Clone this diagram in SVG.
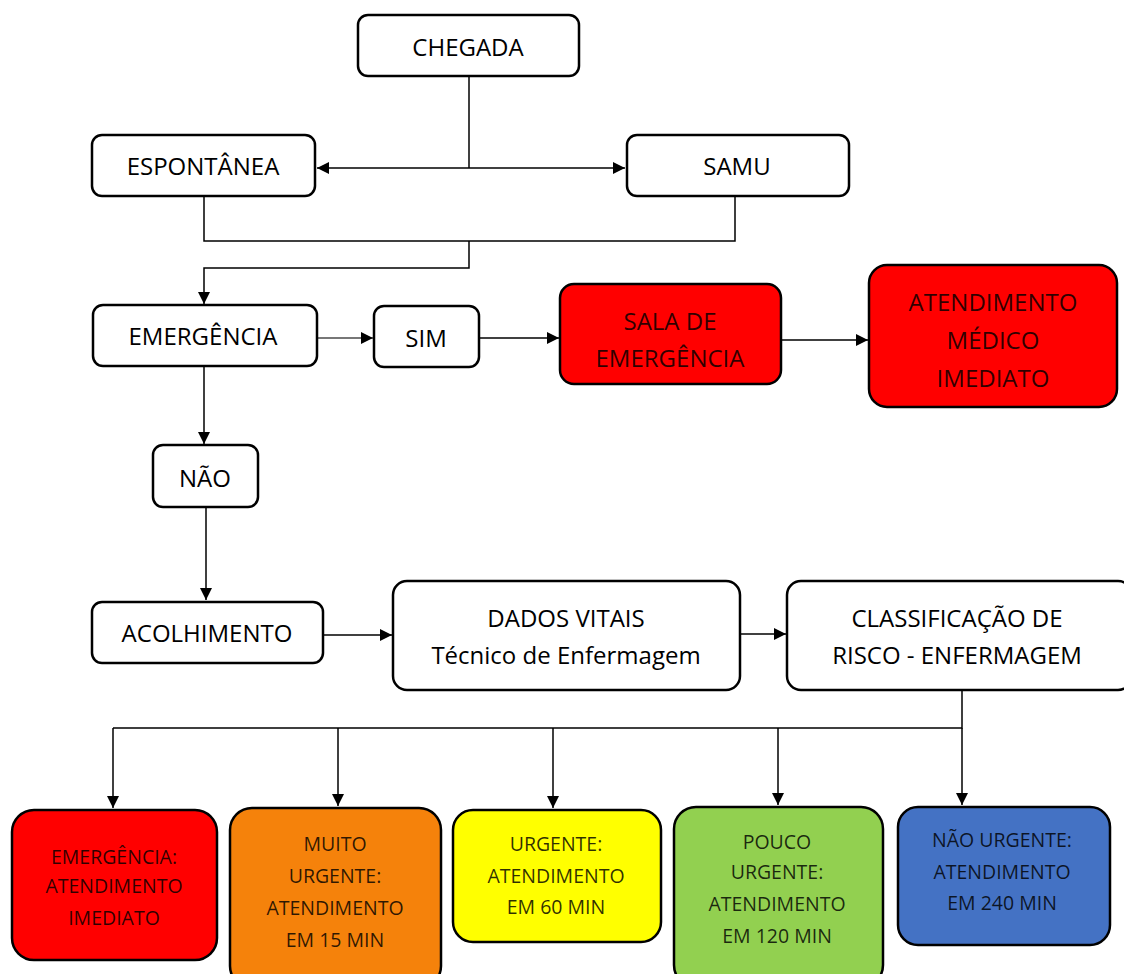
<svg xmlns="http://www.w3.org/2000/svg" width="1124" height="974" viewBox="0 0 1124 974">
<style>
.b{stroke:#000;stroke-width:2.5}
.w{fill:#fff}
.t{font-family:"Open Sans","Liberation Sans",sans-serif;font-size:24px;text-anchor:middle;fill:#000}
.s{font-family:"Open Sans","Liberation Sans",sans-serif;font-size:19.5px;text-anchor:middle;fill:#000;fill-opacity:0.82}
.r{fill-opacity:0.82}
.c{fill:none;stroke:#000;stroke-width:1.5}
</style>
<defs>
<marker id="a" markerWidth="12" markerHeight="12" viewBox="0 0 12 12" refX="12" refY="6" orient="auto" markerUnits="userSpaceOnUse">
<path d="M0,0 L12,6 L0,12 Z" fill="#000"/>
</marker>
<marker id="as" markerWidth="12" markerHeight="12" viewBox="0 0 12 12" refX="12" refY="6" orient="auto-start-reverse" markerUnits="userSpaceOnUse">
<path d="M0,0 L12,6 L0,12 Z" fill="#000"/>
</marker>
</defs>
<rect width="1124" height="974" fill="#fff"/>
<g id="connectors">
<path class="c" d="M469,76 V168"/>
<path class="c" d="M317,168 H625" marker-start="url(#as)" marker-end="url(#as)"/>
<path class="c" d="M204,197 V241 H735 V197"/>
<path class="c" d="M469,241 V268 H204 V304" marker-end="url(#a)"/>
<path d="M318,338 H373" fill="none" stroke="#777" stroke-width="2" marker-end="url(#a)"/>
<path class="c" d="M480,338 H559" marker-end="url(#a)"/>
<path class="c" d="M782,340 H868" marker-end="url(#a)"/>
<path class="c" d="M204,367 V444" marker-end="url(#a)"/>
<path class="c" d="M206,508 V600" marker-end="url(#a)"/>
<path class="c" d="M324,635 H392" marker-end="url(#a)"/>
<path class="c" d="M741,634 H786" marker-end="url(#a)"/>
<path class="c" d="M962,691 V728 H113"/>
<path class="c" d="M113,728 V808" marker-end="url(#a)"/>
<path class="c" d="M338,728 V806" marker-end="url(#a)"/>
<path class="c" d="M553,728 V808" marker-end="url(#a)"/>
<path class="c" d="M778,728 V805" marker-end="url(#a)"/>
<path class="c" d="M962,728 V805" marker-end="url(#a)"/>
</g>
<g id="chegada"><rect class="b w" x="358" y="15" width="221" height="61" rx="10"/><text class="t" x="468" y="56">CHEGADA</text></g>
<g id="espontanea"><rect class="b w" x="92" y="135" width="223" height="61" rx="10"/><text class="t" x="203" y="175">ESPONTÂNEA</text></g>
<g id="samu"><rect class="b w" x="627" y="135" width="222" height="61" rx="10"/><text class="t" x="737" y="175">SAMU</text></g>
<g id="emergencia"><rect class="b w" x="93" y="305" width="224" height="61" rx="10"/><text class="t" x="203" y="345">EMERGÊNCIA</text></g>
<g id="sim"><rect class="b w" x="374" y="306" width="105" height="61" rx="10"/><text class="t" x="426" y="347">SIM</text></g>
<g id="sala"><rect class="b" fill="#ff0000" x="560" y="284" width="221" height="100" rx="14"/><text class="t r" x="670" y="330">SALA DE</text><text class="t r" x="670" y="367">EMERGÊNCIA</text></g>
<g id="atendimento-medico"><rect class="b" fill="#ff0000" x="869" y="265" width="248" height="142" rx="18"/><text class="t r" x="993" y="311">ATENDIMENTO</text><text class="t r" x="993" y="349">MÉDICO</text><text class="t r" x="993" y="387">IMEDIATO</text></g>
<g id="nao"><rect class="b w" x="153" y="445" width="105" height="62" rx="10"/><text class="t" x="205" y="487">NÃO</text></g>
<g id="acolhimento"><rect class="b w" x="92" y="602" width="231" height="61" rx="10"/><text class="t" x="207" y="642">ACOLHIMENTO</text></g>
<g id="dados-vitais"><rect class="b w" x="393" y="581" width="347" height="109" rx="14"/><text class="t" x="566" y="627">DADOS VITAIS</text><text class="t" x="566" y="664">Técnico de Enfermagem</text></g>
<g id="classificacao"><rect class="b w" x="787" y="581" width="345" height="109" rx="14"/><text class="t" x="957" y="627">CLASSIFICAÇÃO DE</text><text class="t" x="957" y="664">RISCO - ENFERMAGEM</text></g>
<g id="vermelho"><rect class="b" fill="#ff0000" x="12" y="810" width="205" height="150" rx="22"/><text class="s" x="114" y="864">EMERGÊNCIA:</text><text class="s" x="114" y="893">ATENDIMENTO</text><text class="s" x="114" y="925">IMEDIATO</text></g>
<g id="laranja"><rect class="b" fill="#f5820b" x="230" y="808" width="211" height="180" rx="22"/><text class="s" x="335" y="851">MUITO</text><text class="s" x="335" y="883">URGENTE:</text><text class="s" x="335" y="915">ATENDIMENTO</text><text class="s" x="335" y="947">EM 15 MIN</text></g>
<g id="amarelo"><rect class="b" fill="#ffff00" x="453" y="810" width="208" height="132" rx="20"/><text class="s" x="556" y="851">URGENTE:</text><text class="s" x="556" y="883">ATENDIMENTO</text><text class="s" x="556" y="914">EM 60 MIN</text></g>
<g id="verde"><rect class="b" fill="#92d050" x="674" y="807" width="209" height="180" rx="22"/><text class="s" x="777" y="849">POUCO</text><text class="s" x="777" y="879">URGENTE:</text><text class="s" x="777" y="911">ATENDIMENTO</text><text class="s" x="777" y="943">EM 120 MIN</text></g>
<g id="azul"><rect class="b" fill="#4472c4" x="898" y="807" width="212" height="138" rx="20"/><text class="s" x="1002" y="847">NÃO URGENTE:</text><text class="s" x="1002" y="879">ATENDIMENTO</text><text class="s" x="1002" y="910">EM 240 MIN</text></g>
</svg>
